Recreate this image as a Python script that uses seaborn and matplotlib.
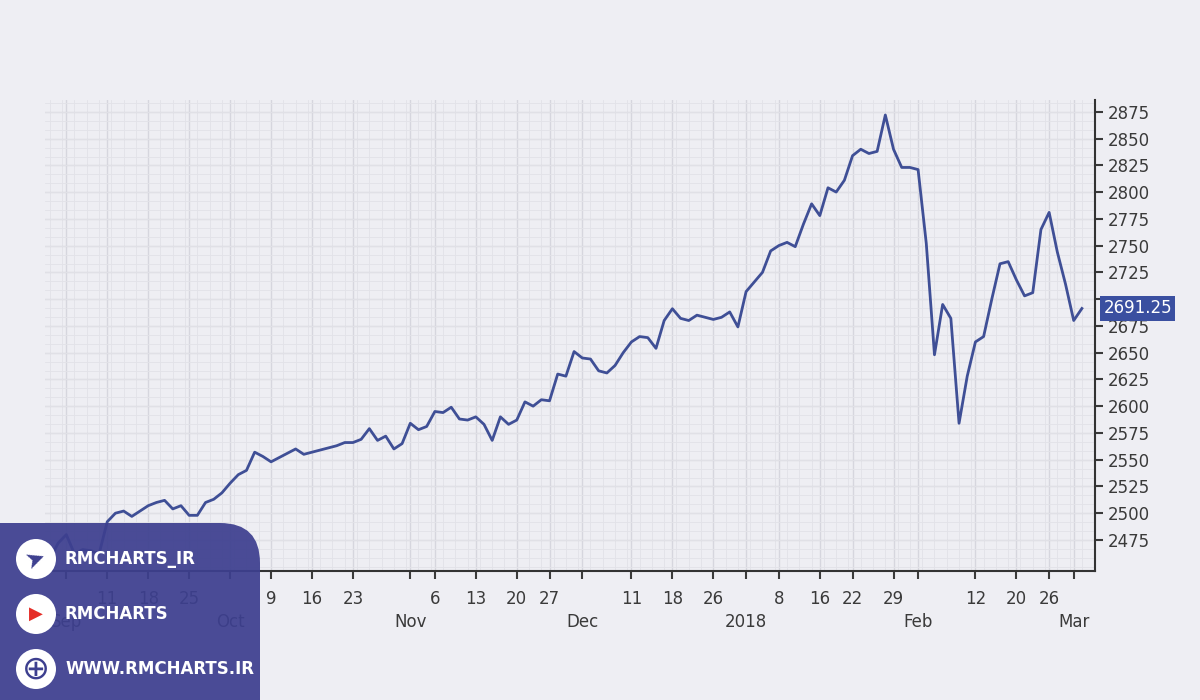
import numpy as np
import pandas as pd
import seaborn as sns
import matplotlib.pyplot as plt
from matplotlib.patches import FancyBboxPatch, Circle

dates = ["2017-08-30", "2017-08-31", "2017-09-01",
         "2017-09-05", "2017-09-06", "2017-09-07", "2017-09-08",
         "2017-09-11", "2017-09-12", "2017-09-13", "2017-09-14", "2017-09-15",
         "2017-09-18", "2017-09-19", "2017-09-20", "2017-09-21", "2017-09-22",
         "2017-09-25", "2017-09-26", "2017-09-27", "2017-09-28", "2017-09-29",
         "2017-10-02", "2017-10-03", "2017-10-04", "2017-10-05", "2017-10-06",
         "2017-10-09", "2017-10-10", "2017-10-11", "2017-10-12", "2017-10-13",
         "2017-10-16", "2017-10-17", "2017-10-18", "2017-10-19", "2017-10-20",
         "2017-10-23", "2017-10-24", "2017-10-25", "2017-10-26", "2017-10-27",
         "2017-10-30", "2017-10-31", "2017-11-01", "2017-11-02", "2017-11-03",
         "2017-11-06", "2017-11-07", "2017-11-08", "2017-11-09", "2017-11-10",
         "2017-11-13", "2017-11-14", "2017-11-15", "2017-11-16", "2017-11-17",
         "2017-11-20", "2017-11-21", "2017-11-22", "2017-11-24",
         "2017-11-27", "2017-11-28", "2017-11-29", "2017-11-30", "2017-12-01",
         "2017-12-04", "2017-12-05", "2017-12-06", "2017-12-07", "2017-12-08",
         "2017-12-11", "2017-12-12", "2017-12-13", "2017-12-14", "2017-12-15",
         "2017-12-18", "2017-12-19", "2017-12-20", "2017-12-21", "2017-12-22",
         "2017-12-26", "2017-12-27", "2017-12-28", "2017-12-29",
         "2018-01-02", "2018-01-03", "2018-01-04", "2018-01-05",
         "2018-01-08", "2018-01-09", "2018-01-10", "2018-01-11", "2018-01-12",
         "2018-01-16", "2018-01-17", "2018-01-18", "2018-01-19",
         "2018-01-22", "2018-01-23", "2018-01-24", "2018-01-25", "2018-01-26",
         "2018-01-29", "2018-01-30", "2018-01-31", "2018-02-01", "2018-02-02",
         "2018-02-05", "2018-02-06", "2018-02-07", "2018-02-08", "2018-02-09",
         "2018-02-12", "2018-02-13", "2018-02-14", "2018-02-15", "2018-02-16",
         "2018-02-20", "2018-02-21", "2018-02-22", "2018-02-23",
         "2018-02-26", "2018-02-27", "2018-02-28", "2018-03-01", "2018-03-02"]
closes = [2457, 2472, 2480,
          2462, 2466, 2465, 2462,
          2492, 2500, 2502, 2497, 2502,
          2507, 2510, 2512, 2504, 2507,
          2498, 2498, 2510, 2513, 2519,
          2528, 2536, 2540, 2557, 2553,
          2548, 2552, 2556, 2560, 2555,
          2557, 2559, 2561, 2563, 2566,
          2566, 2569, 2579, 2568, 2572,
          2560, 2565, 2584, 2578, 2581,
          2595, 2594, 2599, 2588, 2587,
          2590, 2583, 2568, 2590, 2583,
          2587, 2604, 2600, 2606,
          2605, 2630, 2628, 2651, 2645,
          2644, 2633, 2631, 2638, 2650,
          2660, 2665, 2664, 2654, 2680,
          2691, 2682, 2680, 2685, 2683,
          2681, 2683, 2688, 2674,
          2707, 2716, 2725, 2745,
          2750, 2753, 2749, 2770, 2789,
          2778, 2804, 2800, 2811,
          2834, 2840, 2836, 2838, 2872,
          2840, 2823, 2823, 2821, 2752,
          2648, 2695, 2682, 2584, 2628,
          2660, 2665, 2700, 2733, 2735,
          2718, 2703, 2706, 2765,
          2781, 2744, 2714, 2680, 2691.25]

tick_dates = ["2017-09-01", "2017-09-11", "2017-09-18", "2017-09-25", "2017-10-02",
              "2017-10-09", "2017-10-16", "2017-10-23", "2017-11-01", "2017-11-06",
              "2017-11-13", "2017-11-20", "2017-11-27", "2017-12-01", "2017-12-11",
              "2017-12-18", "2017-12-26", "2018-01-02", "2018-01-08", "2018-01-16",
              "2018-01-22", "2018-01-29", "2018-02-01", "2018-02-12", "2018-02-20",
              "2018-02-26", "2018-03-01"]
tick_labels = ["\nSep", "11", "18", "25", "\nOct", "9", "16", "23", "\nNov", "6",
               "13", "20", "27", "\nDec", "11", "18", "26", "\n2018", "8", "16",
               "22", "29", "\nFeb", "12", "20", "26", "\nMar"]

df = pd.DataFrame({"date": dates, "close": closes})
df["i"] = np.arange(len(df))

bg = "#eeeef3"
line_c = "#3f4f96"
txt_c = "#3a3a3a"
fig = plt.figure(figsize=(12, 7), dpi=100, facecolor=bg)
ax = fig.add_axes([45 / 1200, 129 / 700, 1050 / 1200, 471 / 700])
ax.set_facecolor(bg)
sns.lineplot(data=df, x="i", y="close", ax=ax, color=line_c, linewidth=2)

last = len(df) - 1
ax.set_xlim(-0.6, last + 1.6)
ax.set_ylim(2446, 2886)

pos = [dates.index(d) for d in tick_dates]
ax.set_xticks(pos)
ax.set_xticklabels(tick_labels, fontsize=12, color=txt_c, linespacing=1.35)
yt = np.arange(2475, 2876, 25)
ax.set_yticks(yt)
ax.set_yticklabels(["" if v == 2700 else str(v) for v in yt])
ax.yaxis.tick_right()
ax.tick_params(axis="y", labelsize=12, colors=txt_c, length=6, width=1.5)
ax.tick_params(axis="x", length=6, width=1.5, colors=txt_c, pad=8)
ax.set_xticks(np.arange(0, last + 2, 1.5), minor=True)
ax.set_yticks(np.arange(2450, 2886, 8.33), minor=True)
ax.tick_params(which="minor", length=0)
ax.grid(True, which="major", color="#d6d6de", linewidth=1)
ax.grid(True, which="minor", color="#e2e2e8", linewidth=0.6)
for s in ["top", "left"]:
    ax.spines[s].set_visible(False)
for s in ["right", "bottom"]:
    ax.spines[s].set_color("#333333")
    ax.spines[s].set_linewidth(1.5)
ax.set_xlabel("")
ax.set_ylabel("")

ax.annotate(f"{closes[-1]:.2f}", xy=(1.0, closes[-1]), xycoords=("axes fraction", "data"),
            xytext=(6, 0), textcoords="offset points", va="center", ha="left",
            color="white", fontsize=12,
            bbox=dict(boxstyle="square,pad=0.2", fc="#3a4fa0", ec="none"))

# watermark banner, drawn in pixel-like coordinates
bax = fig.add_axes([0, 0, 1, 1], zorder=10)
bax.set_xlim(0, 1200)
bax.set_ylim(700, 0)
bax.axis("off")
bax.add_patch(FancyBboxPatch((-40, 523), 300, 220, boxstyle="round,pad=0,rounding_size=40",
                             fc="#3d3f8f", ec="none", alpha=0.93))
items = [("RMCHARTS_IR", 559), ("RMCHARTS", 614), ("WWW.RMCHARTS.IR", 669)]
for txt, y in items:
    bax.add_patch(Circle((36, y), 20, fc="white", ec="none"))
    bax.text(65, y, txt, color="white", fontsize=12, fontweight="bold", va="center")
bax.text(36, 614, "▶", color="#e52d27", fontsize=13, ha="center", va="center")
bax.text(35, 559, "➤", color="#3d3f8f", fontsize=17, ha="center", va="center", rotation=20)
bax.text(36, 669, "⊕", color="#3d3f8f", fontsize=24, ha="center", va="center")

fig.savefig("out.png", dpi=100, facecolor=bg)
